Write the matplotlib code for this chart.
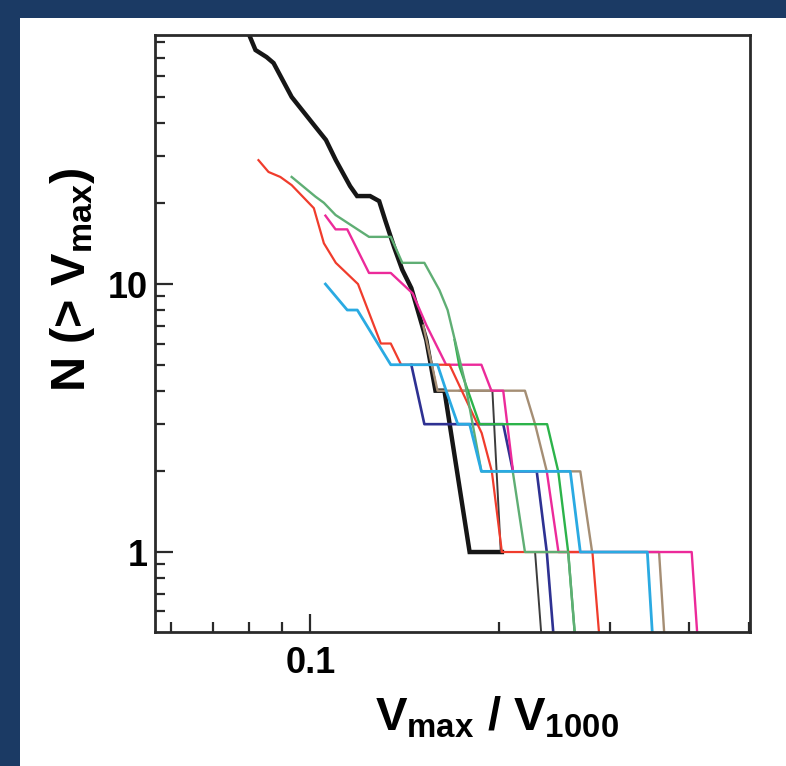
import numpy as np
import matplotlib
matplotlib.use("Agg")
import matplotlib.pyplot as plt
from matplotlib.patches import Rectangle
from matplotlib.ticker import LogLocator, NullFormatter, FixedLocator, FixedFormatter

plt.rcParams['font.family'] = ['Liberation Sans', 'DejaVu Sans']
plt.rcParams['mathtext.fontset'] = 'custom'
plt.rcParams['mathtext.rm'] = 'Liberation Sans:bold'
plt.rcParams['mathtext.it'] = 'Liberation Sans:bold'
plt.rcParams['mathtext.bf'] = 'Liberation Sans:bold'

# cumulative counts N(>Vmax) vs Vmax/V1000, one list pair per curve
black_v = [0.0791, 0.0818, 0.0852, 0.0874, 0.0934, 0.1020, 0.1059, 0.1098, 0.1157, 0.1187,
           0.1245, 0.1287, 0.1316, 0.1360, 0.1401, 0.1448, 0.1530, 0.1582, 0.1635, 0.1793, 0.2018]
black_n = [90.2, 74.7, 70.3, 66.8, 49.9, 38.5, 34.5, 29.0, 23.2, 21.3,
           21.3, 20.4, 17.3, 13.7, 11.3, 9.66, 6.18, 4, 4, 1, 1]

gray_v = [0.1728, 0.1949, 0.2010, 0.2279, 0.2342]
gray_n = [4, 4, 1, 1, 0.43]

navy_v = [0.1448, 0.1519, 0.2028, 0.2102, 0.2293, 0.2379, 0.2449]
navy_n = [5, 3, 3, 2, 2, 1, 0.43]

brown_v = [0.1513, 0.1594, 0.2196, 0.2279, 0.2379, 0.2690, 0.2809, 0.3590, 0.3673]
brown_n = [7, 4, 4, 3, 2, 2, 1, 1, 0.43]

pink_v = [0.1057, 0.1097, 0.1145, 0.1240, 0.1343, 0.1455, 0.1530, 0.1645, 0.1872,
          0.1942, 0.2028, 0.2102, 0.2379, 0.2483, 0.4046, 0.4146]
pink_n = [18.0, 16, 16, 11, 11, 9.23, 7.03, 5, 5, 4, 4, 2, 2, 1, 1, 0.43]

lime_v = [0.1697, 0.1728, 0.1860, 0.2382, 0.2481, 0.2573, 0.2649]
lime_n = [6.18, 4.91, 3, 3, 2, 1, 0.43]

red_v = [0.0827, 0.0858, 0.0896, 0.0934, 0.1013, 0.1051, 0.1098, 0.1191, 0.1295, 0.1343,
         0.1395, 0.1666, 0.1874, 0.1945, 0.2018, 0.2812, 0.2896]
red_n = [29.0, 26.2, 25.1, 23.4, 19.2, 14.2, 12.0, 10.0, 6, 6,
         5, 5, 2.78, 2, 1, 1, 0.43]

green_v = [0.0934, 0.1019, 0.1051, 0.1097, 0.1240, 0.1343, 0.1401, 0.1519, 0.1605, 0.1654,
           0.1760, 0.1872, 0.2100, 0.2196, 0.2573, 0.2649]
green_n = [25.1, 21.2, 20.1, 18.1, 15, 15, 12, 12, 9.5, 8.0,
           4.38, 2, 2, 1, 1, 0.43]

blue_v = [0.1057, 0.1145, 0.1188, 0.1343, 0.1594, 0.1645, 0.1717, 0.1793, 0.1872,
          0.2593, 0.2690, 0.3439, 0.3516]
blue_n = [10, 8, 8, 5, 5, 4, 3, 3, 2, 2, 1, 1, 0.43]

fig = plt.figure(figsize=(7.86, 7.66), dpi=100)
fig.patch.set_facecolor('#1b3a64')
fig.add_artist(Rectangle((20/786, 0), 1 - 20/786, 1 - 18/766, transform=fig.transFigure,
                         facecolor='white', edgecolor='none', zorder=0))

ax = fig.add_axes([155/786, 1 - 632/766, 595/786, 597/766])
ax.set_zorder(1)

ax.plot(black_v, black_n, color='#161616', lw=3.2, solid_joinstyle='miter')
ax.plot(gray_v, gray_n, color='#3c3c3c', lw=1.4)
ax.plot(navy_v, navy_n, color='#2e3192', lw=1.9)
ax.plot(brown_v, brown_n, color='#a58e74', lw=1.7)
ax.plot(pink_v, pink_n, color='#ec2a9a', lw=1.7)
ax.plot(lime_v, lime_n, color='#2cb34a', lw=1.7)
ax.plot(red_v, red_n, color='#f03c2c', lw=1.6)
ax.plot(green_v, green_n, color='#5fae74', lw=1.7)
ax.plot(blue_v, blue_n, color='#2aaae2', lw=2.0)

ax.set_xscale('log')
ax.set_yscale('log')
ax.set_xlim(0.0566, 0.501)
ax.set_ylim(0.503, 85)

ax.xaxis.set_major_locator(FixedLocator([0.1]))
ax.xaxis.set_major_formatter(FixedFormatter(['0.1']))
ax.xaxis.set_minor_locator(LogLocator(base=10, subs=np.arange(2, 10)))
ax.xaxis.set_minor_formatter(NullFormatter())
ax.yaxis.set_major_locator(FixedLocator([1, 10]))
ax.yaxis.set_major_formatter(FixedFormatter(['1', '10']))
ax.yaxis.set_minor_locator(LogLocator(base=10, subs=np.arange(2, 10)))
ax.yaxis.set_minor_formatter(NullFormatter())

for s in ax.spines.values():
    s.set_linewidth(2.0)
    s.set_color('#2a2a2a')

ax.tick_params(which='both', direction='in', color='#2a2a2a', width=1.6,
               top=False, right=False)
ax.tick_params(which='major', length=13, labelsize=26)
ax.tick_params(which='minor', length=7)
ax.tick_params(axis='x', which='major', pad=10)
ax.tick_params(axis='y', which='major', pad=5)
for lab in ax.get_xticklabels() + ax.get_yticklabels():
    lab.set_fontweight('bold')

ax.set_xlabel(r'$V_{max}$ / $V_{1000}$', fontsize=34, fontweight='bold')
ax.xaxis.set_label_coords(0.575, -0.105)
ax.set_ylabel(r'N (> $V_{max}$)', fontsize=35, fontweight='bold')
ax.yaxis.set_label_coords(-0.097, 0.59)

fig.savefig('out.png', dpi=100, facecolor=fig.get_facecolor())
